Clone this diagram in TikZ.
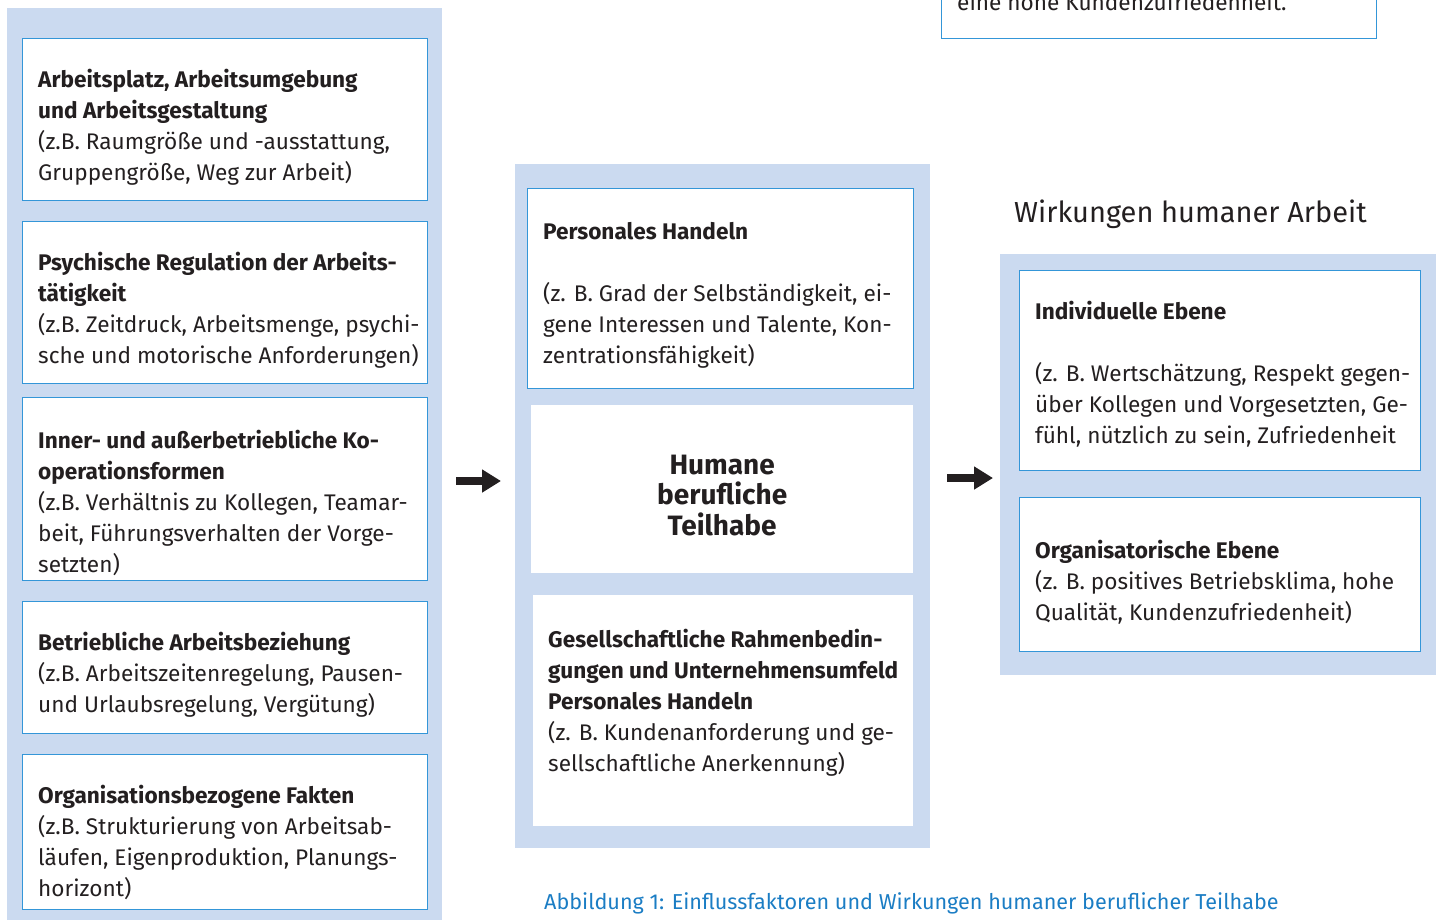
\documentclass[tikz,border=0pt]{standalone}
\usepackage{fontspec}
\setmainfont{Fira Sans}
\usetikzlibrary{positioning,arrows.meta}

\definecolor{hintergrund}{RGB}{203,218,240}
\definecolor{rahmen}{RGB}{52,150,216}
\definecolor{schrift}{RGB}{35,31,32}
\definecolor{legende}{RGB}{27,125,196}

\begin{document}
\begin{tikzpicture}[x=1pt,y=-1pt]
\tikzstyle{bg} = [fill=hintergrund,anchor=north west,inner sep=0pt]
\tikzstyle{kasten} = [draw=rahmen,line width=1.3pt,fill=white,anchor=north west,inner sep=0pt]
\tikzstyle{leer} = [fill=white,anchor=north west,inner sep=0pt]
\tikzstyle{txt} = [inner sep=0pt,align=left,text=schrift,font=\fontsize{22.6}{31}\selectfont]
\tikzstyle{pfeil} = [line width=8.5pt,-{Triangle[length=19pt,width=22pt]},schrift]
\useasboundingbox (0,0) rectangle (1442,919);

% Hintergruende
\node[bg,minimum width=435pt,minimum height=925pt] (links) at (7,8) {};
\node[bg,minimum width=415pt,minimum height=684pt] (mitte) at (515,164) {};
\node[bg,minimum width=436pt,minimum height=421pt] (rechts) at (1000,254) {};

% Einflussfaktoren (links)
\node[kasten,minimum width=405pt,minimum height=162pt] (a1) at (22,38) {};
\node[kasten,minimum width=405pt,minimum height=162pt] (a2) at (22,221) {};
\node[kasten,minimum width=405pt,minimum height=183pt] (a3) at (22,397) {};
\node[kasten,minimum width=405pt,minimum height=132pt] (a4) at (22,601) {};
\node[kasten,minimum width=405pt,minimum height=155pt] (a5) at (22,754) {};

\node[txt,below right=31pt and 16pt of a1.north west] (ta1) {\textbf{Arbeitsplatz, Arbeitsumgebung}\\\textbf{und Arbeitsgestaltung}\\(z.B. Raumgröße und -ausstattung,\\Gruppengröße, Weg zur Arbeit)};
\node[txt,below right=31pt and 16pt of a2.north west] (ta2) {\textbf{Psychische Regulation der Arbeits-}\\\textbf{tätigkeit}\\(z.B. Zeitdruck, Arbeitsmenge, psychi-\\sche und motorische Anforderungen)};
\node[txt,below right=33pt and 16pt of a3.north west] (ta3) {\textbf{Inner- und außerbetriebliche Ko-}\\\textbf{operationsformen}\\(z.B. Verhältnis zu Kollegen, Teamar-\\beit, Führungsverhalten der Vorge-\\setzten)};
\node[txt,below right=31pt and 16pt of a4.north west] (ta4) {\textbf{Betriebliche Arbeitsbeziehung}\\(z.B. Arbeitszeitenregelung, Pausen-\\und Urlaubsregelung, Vergütung)};
\node[txt,below right=31pt and 16pt of a5.north west] (ta5) {\textbf{Organisationsbezogene Fakten}\\(z.B. Strukturierung von Arbeitsab-\\läufen, Eigenproduktion, Planungs-\\horizont)};

% Mitte
\node[kasten,minimum width=386pt,minimum height=200pt] (m1) at (527,188) {};
\node[leer,minimum width=382pt,minimum height=168pt] (m2) at (531,405) {};
\node[leer,minimum width=380pt,minimum height=231pt] (m3) at (533,595) {};

\node[txt,below right=34pt and 16pt of m1.north west] (tm1) {\textbf{Personales Handeln}\\[31pt](z. B. Grad der Selbständigkeit, ei-\\gene Interessen und Talente, Kon-\\zentrationsfähigkeit)};
\node[align=center,inner sep=0pt,text=schrift,font=\fontsize{28}{30.5}\selectfont\bfseries,
  yshift=-6pt] (tm2) at (m2.center) {Humane\\berufliche\\Teilhabe};
\node[txt,below right=34pt and 15pt of m3.north west] (tm3) {\textbf{Gesellschaftliche Rahmenbedin-}\\\textbf{gungen und Unternehmensumfeld}\\\textbf{Personales Handeln}\\(z. B. Kundenanforderung und ge-\\sellschaftliche Anerkennung)};

% Wirkungen (rechts)
\node[anchor=base west,inner sep=0pt,text=schrift,font=\fontsize{29}{31}\selectfont] (titel) at (1014,222) {Wirkungen humaner Arbeit};
\node[kasten,minimum width=401pt,minimum height=200pt] (r1) at (1019,270) {};
\node[kasten,minimum width=401pt,minimum height=154pt] (r2) at (1019,497) {};

\node[txt,below right=31pt and 16pt of r1.north west] (tr1) {\textbf{Individuelle Ebene}\\[31pt](z. B. Wertschätzung, Respekt gegen-\\über Kollegen und Vorgesetzten, Ge-\\fühl, nützlich zu sein, Zufriedenheit};
\node[txt,below right=43pt and 16pt of r2.north west] (tr2) {\textbf{Organisatorische Ebene}\\(z. B. positives Betriebsklima, hohe\\Qualität, Kundenzufriedenheit)};

% Kasten oben rechts (angeschnitten)
\node[kasten,minimum width=435pt,minimum height=168pt] (oben) at (941,-130) {};
\node[anchor=base west,inner sep=0pt,text=schrift,font=\fontsize{22.6}{31}\selectfont] (toben) at (957,10) {eine hohe Kundenzufriedenheit.};

% Pfeile
\coordinate (pf1) at (0,481);
\coordinate (pf2) at (0,478);
\draw[pfeil,shorten <=14pt,shorten >=14pt] (links.east |- pf1) -- (mitte.west |- pf1);
\draw[pfeil,shorten <=17pt,shorten >=7pt] (mitte.east |- pf2) -- (rechts.west |- pf2);

% Bildunterschrift
\node[anchor=base west,inner sep=0pt,text=legende,font=\fontsize{21.6}{25}\selectfont] (legende) at (544,909) {Abbildung 1: Einflussfaktoren und Wirkungen humaner beruflicher Teilhabe};
\end{tikzpicture}
\end{document}
